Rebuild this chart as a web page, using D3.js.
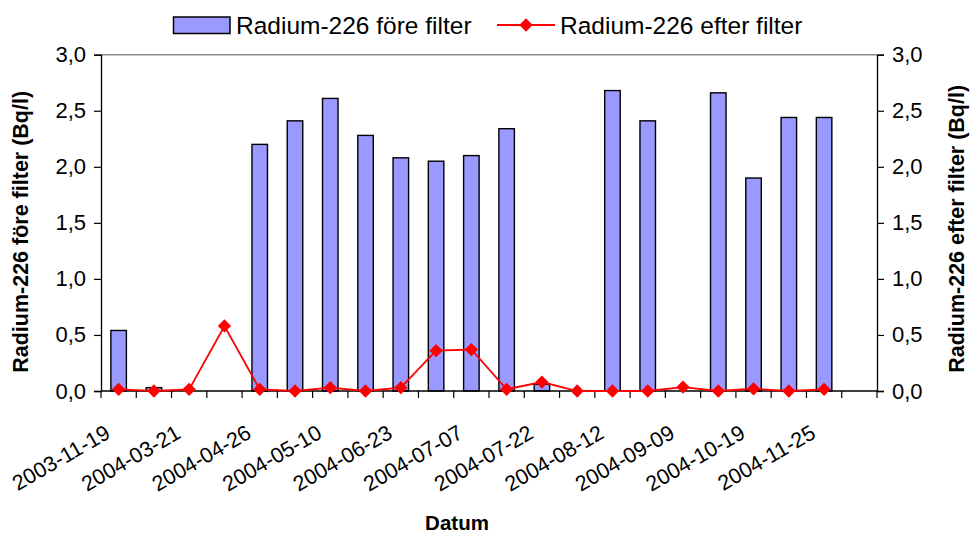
<!DOCTYPE html>
<html>
<head>
<meta charset="utf-8">
<script src="https://cdn.jsdelivr.net/npm/d3@7/dist/d3.min.js"></script>
<style>
  html, body { margin: 0; padding: 0; background: #fff; }
  svg { display: block; font-family: "Liberation Sans", Arial, sans-serif; }
</style>
</head>
<body>
<svg id="chart" width="972" height="535"></svg>
<script>
// Sampling dates; only every second one carries a label on the axis
const dateLabels = ["2003-11-19", "", "2004-03-21", "", "2004-04-26", "", "2004-05-10", "",
  "2004-06-23", "", "2004-07-07", "", "2004-07-22", "", "2004-08-12", "", "2004-09-09", "",
  "2004-10-19", "", "2004-11-25", ""];

// Radium-226 before the filter (Bq/l), bars
const foreFilter = [0.54, 0.03, null, null, 2.20, 2.41, 2.61, 2.28, 2.08, 2.05, 2.10, 2.34,
  0.06, null, 2.68, 2.41, null, 2.66, 1.90, 2.44, 2.44, null];

// Radium-226 after the filter (Bq/l), line with markers
const efterFilter = [0.015, 0.0, 0.015, 0.58, 0.015, 0.0, 0.03, 0.0, 0.03, 0.36, 0.37, 0.015,
  0.08, 0.0, 0.0, 0.0, 0.035, 0.0, 0.02, 0.0, 0.015, null];

const yTicks = [0, 0.5, 1.0, 1.5, 2.0, 2.5, 3.0];

const seriesNames = ["Radium-226 före filter", "Radium-226 efter filter"];
const axisTitles = {
  left: "Radium-226 före filter (Bq/l)",
  right: "Radium-226 efter filter (Bq/l)",
  x: "Datum"
};

const svg = d3.select("#chart");
const plot = { left: 101, right: 877, top: 54.7, bottom: 391 };

const x = d3.scaleBand()
  .domain(d3.range(dateLabels.length))
  .range([plot.left, plot.right])
  .paddingInner(0).paddingOuter(0);

const yLeft = d3.scaleLinear().domain([0, 3]).range([plot.bottom, plot.top]);
const yRight = d3.scaleLinear().domain([0, 3]).range([plot.bottom, plot.top]);

const fmt = v => d3.format(".1f")(v).replace(".", ",");

// plot area top border
svg.append("line")
  .attr("x1", plot.left).attr("x2", plot.right)
  .attr("y1", plot.top).attr("y2", plot.top)
  .attr("stroke", "#8c8c8c").attr("stroke-width", 1.5);

// bars
const barW = x.bandwidth() * 0.44;
svg.append("g").selectAll("rect")
  .data(foreFilter.map((v, i) => ({ v, i })).filter(d => d.v !== null))
  .join("rect")
  .attr("x", d => x(d.i) + (x.bandwidth() - barW) / 2)
  .attr("y", d => yLeft(d.v))
  .attr("width", barW)
  .attr("height", d => yLeft(0) - yLeft(d.v))
  .attr("fill", "#9999ff")
  .attr("stroke", "#000")
  .attr("stroke-width", 1.4);

// left axis
const leftAxis = svg.append("g")
  .attr("transform", `translate(${plot.left},0)`)
  .call(d3.axisLeft(yLeft).tickValues(yTicks).tickFormat(fmt).tickSize(7).tickPadding(8));
leftAxis.selectAll("text").attr("font-size", 22).attr("fill", "#000").attr("font-family", "Liberation Sans, Arial, sans-serif");

// right axis
const rightAxis = svg.append("g")
  .attr("transform", `translate(${plot.right},0)`)
  .call(d3.axisRight(yRight).tickValues(yTicks).tickFormat(fmt).tickSize(7).tickPadding(8));
rightAxis.selectAll("text").attr("font-size", 22).attr("fill", "#000").attr("font-family", "Liberation Sans, Arial, sans-serif");

// x axis: ticks on category boundaries
const xAxisG = svg.append("g").attr("transform", `translate(0,${plot.bottom})`);
xAxisG.append("line")
  .attr("x1", plot.left).attr("x2", plot.right)
  .attr("stroke", "#000").attr("stroke-width", 1.3);
xAxisG.selectAll("line.tick")
  .data(d3.range(dateLabels.length + 1))
  .join("line")
  .attr("class", "tick")
  .attr("x1", i => plot.left + i * x.step())
  .attr("x2", i => plot.left + i * x.step())
  .attr("y1", 0).attr("y2", 7)
  .attr("stroke", "#000").attr("stroke-width", 1.2);

svg.selectAll(".domain").attr("stroke", "#000").attr("stroke-width", 1.3);
svg.selectAll(".tick line").attr("stroke", "#000").attr("stroke-width", 1.2);

// rotated date labels
svg.append("g").selectAll("text")
  .data(dateLabels.map((t, i) => ({ t, i })).filter(d => d.t !== ""))
  .join("text")
  .attr("transform", d => `translate(${x(d.i) + x.bandwidth() / 2 - 7},${plot.bottom + 46}) rotate(-30)`)
  .attr("text-anchor", "end")
  .attr("font-size", 21.5)
  .attr("fill", "#000")
  .text(d => d.t);

// line series
const lineData = efterFilter.map((v, i) => ({ v, i })).filter(d => d.v !== null);
svg.append("path")
  .datum(lineData)
  .attr("fill", "none")
  .attr("stroke", "#ff0000")
  .attr("stroke-width", 1.8)
  .attr("d", d3.line().x(d => x(d.i) + x.bandwidth() / 2).y(d => yRight(d.v)));

const diamond = d3.symbol().type(d3.symbolDiamond2).size(112);
svg.append("g").selectAll("path")
  .data(lineData)
  .join("path")
  .attr("transform", d => `translate(${x(d.i) + x.bandwidth() / 2},${yRight(d.v)})`)
  .attr("d", diamond)
  .attr("fill", "#ff0000");

// axis titles
svg.append("text")
  .attr("transform", `translate(28,${(plot.top + plot.bottom) / 2 + 9}) rotate(-90)`)
  .attr("text-anchor", "middle")
  .attr("font-size", 21.5).attr("font-weight", "bold")
  .text(axisTitles.left);

svg.append("text")
  .attr("transform", `translate(964,${(plot.top + plot.bottom) / 2 + 6}) rotate(-90)`)
  .attr("text-anchor", "middle")
  .attr("font-size", 21.5).attr("font-weight", "bold")
  .text(axisTitles.right);

svg.append("text")
  .attr("x", 457).attr("y", 530)
  .attr("text-anchor", "middle")
  .attr("font-size", 20.5).attr("font-weight", "bold")
  .text(axisTitles.x);

// legend
const legend = svg.append("g");
legend.append("rect")
  .attr("x", 173.5).attr("y", 17).attr("width", 56.5).attr("height", 16.5)
  .attr("fill", "#9999ff").attr("stroke", "#000").attr("stroke-width", 1.5);
legend.append("text")
  .attr("x", 236).attr("y", 33.5)
  .attr("font-size", 24.5)
  .text(seriesNames[0]);
legend.append("line")
  .attr("x1", 497).attr("x2", 555).attr("y1", 25).attr("y2", 25)
  .attr("stroke", "#ff0000").attr("stroke-width", 1.8);
legend.append("path")
  .attr("transform", "translate(526,25)")
  .attr("d", diamond)
  .attr("fill", "#ff0000");
legend.append("text")
  .attr("x", 560).attr("y", 33.5)
  .attr("font-size", 24.5)
  .text(seriesNames[1]);
</script>
</body>
</html>
